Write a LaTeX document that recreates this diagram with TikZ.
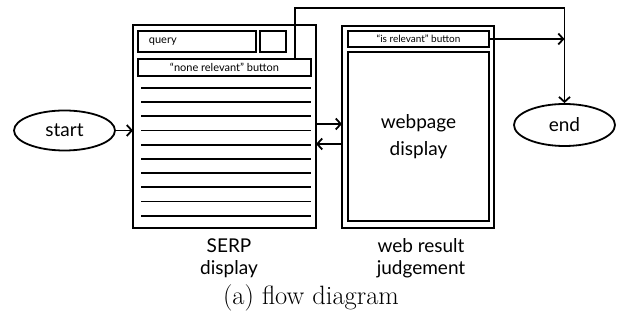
\documentclass[tikz,border=0pt]{standalone}
\usepackage{fontspec}
\newfontfamily\uifont{Lato}
\usetikzlibrary{arrows.meta,shapes.geometric}
\begin{document}
\begin{tikzpicture}[x=1pt,y=-1pt,line width=1.8pt,
  box/.style={draw,rectangle,inner sep=0pt,outer sep=0pt},
  oval/.style={draw,ellipse,minimum width=101pt,minimum height=40pt,inner sep=0pt,font=\uifont\fontsize{19}{22}\selectfont},
  arr/.style={-{Straight Barb[length=5pt,width=11pt]}},
  lbl/.style={font=\uifont\fontsize{19}{22}\selectfont,align=center},
  smalltext/.style={font=\uifont\fontsize{11}{13}\selectfont},
  tinytext/.style={font=\uifont\fontsize{10}{12}\selectfont}]
\useasboundingbox (0,0) rectangle (625,320);
% start / end
\node[oval] (start) at (64.5,130.5) {start};
\node[oval,minimum height=42pt] (end) at (564.5,125) {end};
% SERP
\node[box,minimum width=183pt,minimum height=203pt] (serp) at (224.5,126.5) {};
\node[box,minimum width=118pt,minimum height=21pt] (query) at (197,41.5) {};
\node[smalltext,anchor=west,inner sep=0pt] (querytext) at ([xshift=10pt]query.west) {query};
\node[box,minimum width=26pt,minimum height=21pt] (go) at (273,41.5) {};
\node[box,smalltext,minimum width=173pt,minimum height=17pt] (none) at (224.5,67.5) {“none relevant” button};
\foreach \i in {0,...,9}
  \draw (141,88+14.2*\i) -- (311,88+14.2*\i);
% web result
\node[box,minimum width=152pt,minimum height=202pt] (web) at (418,127) {};
\node[box,tinytext,minimum width=141pt,minimum height=16pt] (isrel) at (418.5,39) {“is relevant” button};
\node[box,minimum width=141pt,minimum height=169pt,align=center,font=\uifont\fontsize{19}{27}\selectfont] (disp) at (418.5,136.5) {webpage\\display};
% labels
\node[lbl] (serplbl) at (229,258) {SERP\\display};
\node[lbl] (weblbl) at (421,258) {web result\\judgement};
\node[font=\fontsize{26.5}{30}\selectfont] (cap) at (311,298) {(a) flow diagram};
% connectors
\draw[arr] (start.east) -- (start.east -| serp.west);
\coordinate (r1) at ([yshift=2.5pt]serp.east);
\coordinate (l1) at ([yshift=-17.5pt]serp.east);
\draw[arr] (r1) -- (r1 -| web.west);
\draw[arr] (l1 -| web.west) -- (l1);
\draw[arr] (isrel.east) -- (isrel.east -| end.north);
\coordinate (nb) at ([xshift=70.5pt]none.north);
\draw[arr] (nb) -- ++(0,-51) -| (end.north);
\end{tikzpicture}
\end{document}
